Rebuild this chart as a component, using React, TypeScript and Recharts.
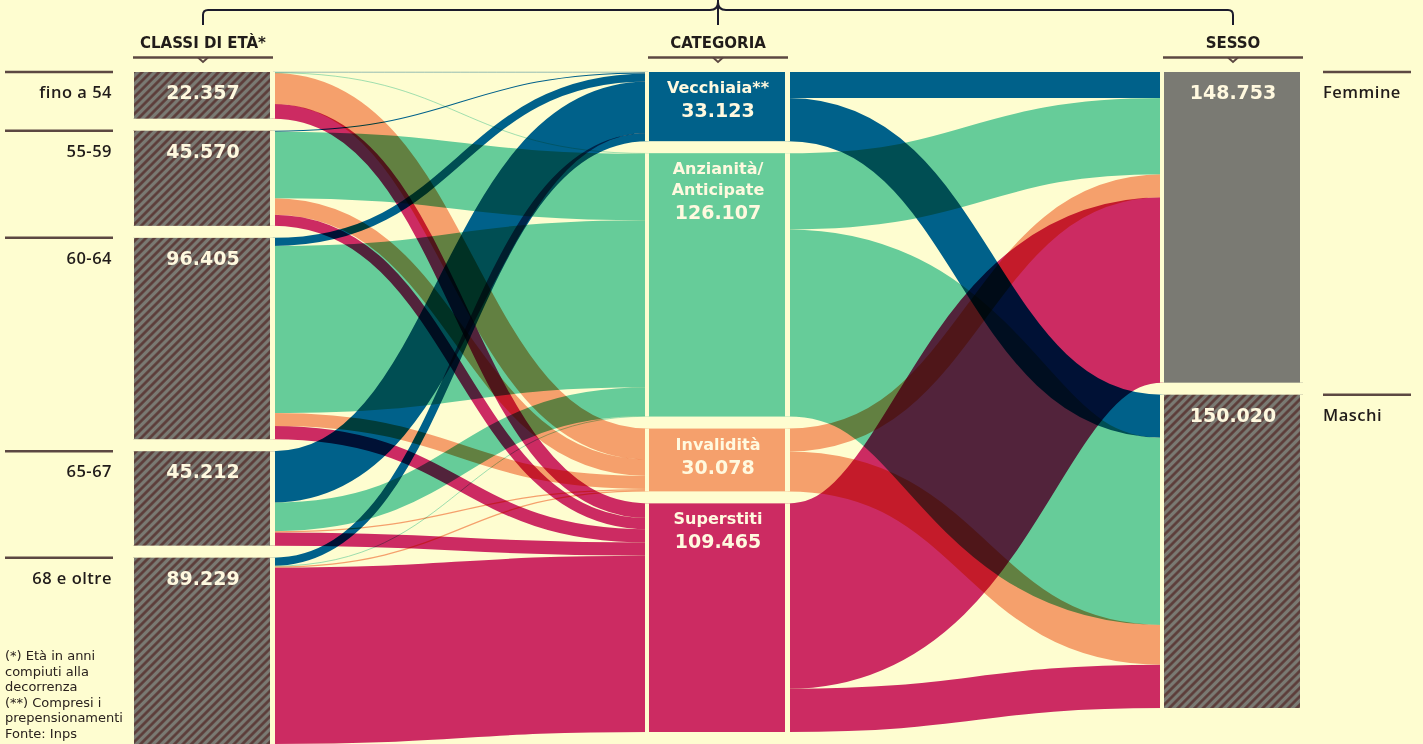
import React from "react";
import { Sankey } from "recharts";

// Pensioni liquidate per classe di età, categoria e sesso
const ageLabels = ["fino a 54", "55-59", "60-64", "65-67", "68 e oltre"];
const categoryLabels = [["Vecchiaia**"], ["Anzianità/", "Anticipate"], ["Invalidità"], ["Superstiti"]];
const sexLabels = ["Femmine", "Maschi"];

// righe: classi di età, colonne: Vecchiaia, Anzianità, Invalidità, Superstiti
const ageToCategory = [
  [200, 300, 14800, 7057],
  [500, 31800, 7900, 5370],
  [3900, 80000, 6200, 6305],
  [24600, 13700, 600, 6312],
  [3923, 307, 578, 84421],
];

// righe: categorie, colonne: Femmine, Maschi
const categoryToSex = [
  [12500, 20623],
  [36500, 89607],
  [11000, 19078],
  [88753, 20712],
];

const footnotes = [
  "(*) Età in anni",
  "compiuti alla",
  "decorrenza",
  "(**) Compresi i",
  "prepensionamenti",
  "Fonte: Inps",
];

const BG = "#fefdd0";
const INK = "#211c1a";
const RULE = "#5c4842";
const GRAY = "#7a7a73";
const PALE = "#fff9df";
const categoryColors = ["#00618a", "#66cc99", "#f5a06c", "#cc2b62"];
const FONT = "'DejaVu Sans', sans-serif";
const LABEL_FONT = "'Open Sans', sans-serif";

const W = 1423;
const H = 744;
const LEFT = 133;
const RIGHT = 120;
const TOP = 72;
const NODE_W = 140;

const nAge = ageLabels.length;
const nCat = categoryLabels.length;

const nodes = [
  ...ageLabels.map((name) => ({ name })),
  ...categoryLabels.map((l) => ({ name: l.join(" ") })),
  ...sexLabels.map((name) => ({ name })),
];

const links: { source: number; target: number; value: number }[] = [];
const linkColors: string[] = [];
ageToCategory.forEach((row, i) =>
  row.forEach((value, j) => {
    links.push({ source: i, target: nAge + j, value });
    linkColors.push(categoryColors[j]);
  })
);
categoryToSex.forEach((row, c) =>
  row.forEach((value, s) => {
    links.push({ source: nAge + c, target: nAge + nCat + s, value });
    linkColors.push(categoryColors[c]);
  })
);

const fmt = (v: number) => String(Math.round(v)).replace(/\B(?=(\d{3})+(?!\d))/g, ".");

function renderLink(props: any) {
  const { sourceX, sourceY, sourceControlX, targetX, targetY, targetControlX, linkWidth, index } = props;
  return (
    <path
      d={`M${sourceX},${sourceY}C${sourceControlX},${sourceY} ${targetControlX},${targetY} ${targetX},${targetY}`}
      fill="none"
      stroke={linkColors[index]}
      strokeWidth={linkWidth}
      style={{ mixBlendMode: "multiply" }}
    />
  );
}

function renderNode(props: any) {
  const { x, y, width, height, index, payload } = props;
  const cx = x + width / 2;
  const isAge = index < nAge;
  const isCat = index >= nAge && index < nAge + nCat;
  const sexIdx = index - nAge - nCat;
  let fill = "url(#hatch)";
  if (isCat) fill = categoryColors[index - nAge];
  if (sexIdx === 0) fill = GRAY;

  return (
    <g>
      {index === 0 && (
        <defs>
          <pattern id="hatch" width="6" height="6" patternUnits="userSpaceOnUse" patternTransform="rotate(45)">
            <rect width="6" height="6" fill={GRAY} />
            <line x1="1.5" y1="0" x2="1.5" y2="6" stroke="#5a3a37" strokeWidth="2.6" />
          </pattern>
        </defs>
      )}
      <rect x={x} y={y} width={width} height={height} fill={fill} />
      <rect x={x - 3} y={y} width={4} height={height} fill={BG} />
      <rect x={x + width - 3} y={y} width={5} height={height} fill={BG} />
      {isCat ? (
        <text textAnchor="middle" fill={PALE} fontFamily={FONT} fontWeight={700}>
          {categoryLabels[index - nAge].map((line, i) => (
            <tspan key={i} x={cx} y={y + 21 + i * 21} fontSize={16}>
              {line}
            </tspan>
          ))}
          <tspan x={cx} y={y + 24 + categoryLabels[index - nAge].length * 21} fontSize={19}>
            {fmt(payload.value)}
          </tspan>
        </text>
      ) : (
        <text x={cx} y={y + 27} textAnchor="middle" fill={PALE} fontFamily={FONT} fontWeight={700} fontSize={19}>
          {fmt(payload.value)}
        </text>
      )}
      {isAge && (
        <g>
          <line x1={x - 128} x2={x - 20} y1={y} y2={y} stroke={RULE} strokeWidth={2.5} />
          <text
            x={x - 21}
            y={y + 26}
            textAnchor="end"
            fill={INK}
            fontFamily={LABEL_FONT}
            fontWeight={600}
            fontSize={16.5}
            letterSpacing={0.5}
          >
            {ageLabels[index]}
          </text>
        </g>
      )}
      {sexIdx >= 0 && (
        <g>
          <line x1={x + width + 20} x2={x + width + 108} y1={y} y2={y} stroke={RULE} strokeWidth={2.5} />
          <text
            x={x + width + 20}
            y={y + 26}
            fill={INK}
            fontFamily={LABEL_FONT}
            fontWeight={600}
            fontSize={16.5}
            letterSpacing={0.5}
          >
            {sexLabels[sexIdx]}
          </text>
        </g>
      )}
    </g>
  );
}

const headers = ["CLASSI DI ETÀ*", "CATEGORIA", "SESSO"];

export default function App() {
  const innerW = W - LEFT - RIGHT;
  const colX = (d: number) => LEFT + (d * (innerW - NODE_W)) / 2;
  const centers = [0, 1, 2].map((d) => colX(d) + NODE_W / 2);
  const [c0, c1, c2] = centers;

  return (
    <div style={{ position: "relative", width: W, height: H, background: BG, overflow: "hidden" }}>
      <style>{`body{margin:0;background:${BG};} .recharts-sankey-links{isolation:isolate;}`}</style>
      <Sankey
        width={W}
        height={H}
        data={{ nodes, links }}
        nodeWidth={NODE_W}
        nodePadding={12}
        iterations={0}
        margin={{ top: TOP, left: LEFT, right: RIGHT, bottom: 0 }}
        link={renderLink}
        node={renderNode}
      />
      <svg width={W} height={H} style={{ position: "absolute", left: 0, top: 0, pointerEvents: "none" }}>
        <g fill="none" stroke="#1c1b2c" strokeWidth={2}>
          <path d={`M${c0},25V15Q${c0},10 ${c0 + 5},10H${c1 - 8}Q${c1},10 ${c1},2`} />
          <path d={`M${c1},2Q${c1},10 ${c1 + 8},10H${c2 - 5}Q${c2},10 ${c2},15V25`} />
          <path d={`M${c1},0V25`} />
        </g>
        {headers.map((h, i) => (
          <g key={h}>
            <text x={centers[i]} y={48} textAnchor="middle" fill={INK} fontFamily={FONT} fontWeight={700} fontSize={15}>
              {h}
            </text>
            <line x1={colX(i)} x2={colX(i) + NODE_W} y1={57.5} y2={57.5} stroke={RULE} strokeWidth={2.5} />
            <polyline
              points={`${centers[i] - 5},57.5 ${centers[i]},62 ${centers[i] + 5},57.5`}
              fill="none"
              stroke={RULE}
              strokeWidth={1.8}
            />
          </g>
        ))}
        <text fill="#2a221e" fontFamily={FONT} fontSize={13}>
          {footnotes.map((t, i) => (
            <tspan key={i} x={5} y={660 + i * 15.5}>
              {t}
            </tspan>
          ))}
        </text>
      </svg>
    </div>
  );
}
